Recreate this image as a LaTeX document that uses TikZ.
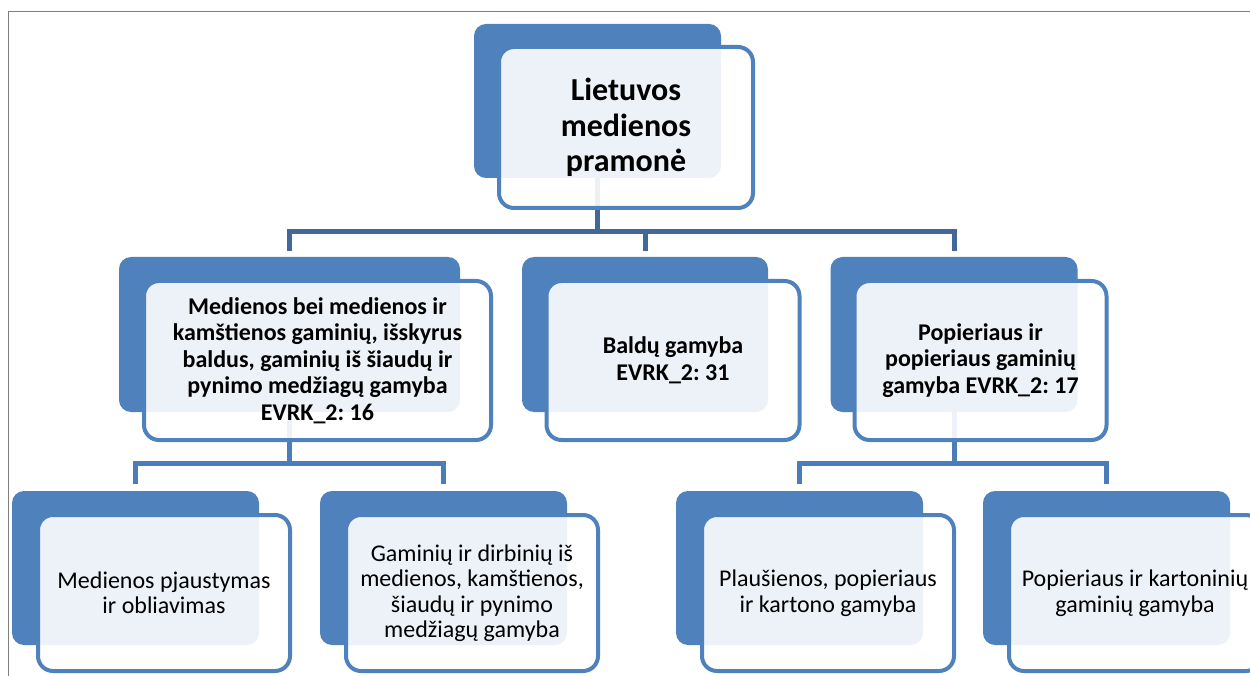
\documentclass[tikz,border=0pt]{standalone}
\usepackage{fontspec}
\setmainfont{Carlito}
\frenchspacing
\definecolor{accent}{HTML}{4F81BD}
\definecolor{linkdark}{HTML}{416899}
\definecolor{linklight}{HTML}{4A7DBA}
\definecolor{framegray}{HTML}{7F7F7F}
\tikzset{
  backcard/.style={rectangle, fill=accent, rounded corners=12pt, inner sep=0pt,
    minimum height=154pt},
  frontcard/.style={rectangle, draw=accent, line width=4pt, fill=white,
    fill opacity=0.9, draw opacity=1, text opacity=1, rounded corners=15pt,
    inner sep=0pt, align=center, text=black},
  toptext/.style={font=\fontsize{32}{35.5}\selectfont\bfseries},
  midtext/.style={font=\fontsize{24}{26.5}\selectfont\bfseries},
  lowtext/.style={font=\fontsize{24}{25.5}\selectfont},
  link/.style={line width=5pt, line join=miter, line cap=butt},
}
\begin{document}
\begin{tikzpicture}[x=1pt, y=-1pt]
\clip (0,0) rectangle (1250,676);
\fill[white] (0,0) rectangle (1250,676);

% page frame
\draw[framegray, line width=1.8pt] (8.5,676) -- (8.5,11.5) -- (1250,11.5);

% back cards
\node[backcard, minimum width=247pt] (topbk) at (597.5,101) {};
\node[backcard, minimum width=341pt, minimum height=155pt] (l2abk) at (289.5,334.5) {};
\node[backcard, minimum width=246pt, minimum height=155pt] (l2bbk) at (645,334.5) {};
\node[backcard, minimum width=247pt, minimum height=155pt] (l2cbk) at (954,334.5) {};
\node[backcard, minimum width=247pt] (l3abk) at (135.5,568) {};
\node[backcard, minimum width=247pt] (l3bbk) at (443.5,568) {};
\node[backcard, minimum width=247pt] (l3cbk) at (799.5,568) {};
\node[backcard, minimum width=247pt] (l3dbk) at (1106.5,568) {};

% connectors
\draw[link, linkdark, shorten >=6pt] (topbk.south) -- ++(0,53) -| (l2abk.north);
\draw[link, linkdark, shorten >=6pt] (topbk.south) -- ++(0,53) -| (l2bbk.north);
\draw[link, linkdark, shorten >=6pt] (topbk.south) -- ++(0,53) -| (l2cbk.north);
\draw[link, linklight, shorten >=7pt] (l2abk.south) -- ++(0,51) -| (l3abk.north);
\draw[link, linklight, shorten >=7pt] (l2abk.south) -- ++(0,51) -| (l3bbk.north);
\draw[link, linklight, shorten >=7pt] (l2cbk.south) -- ++(0,51) -| (l3cbk.north);
\draw[link, linklight, shorten >=7pt] (l2cbk.south) -- ++(0,51) -| (l3dbk.north);

% front cards with text
\node[frontcard, toptext, minimum width=254pt, minimum height=161pt] (top) at (626,127.5)
  {Lietuvos\\medienos\\pramonė};
\node[frontcard, midtext, minimum width=347pt, minimum height=159pt] (l2a) at (317.5,360.5)
  {Medienos bei medienos ir\\kamštienos gaminių, išskyrus\\baldus, gaminių iš šiaudų ir\\pynimo medžiagų gamyba\\EVRK\_2: 16};
\node[frontcard, midtext, minimum width=253pt, minimum height=159pt] (l2b) at (673,360.5)
  {Baldų gamyba\\EVRK\_2: 31};
\node[frontcard, midtext, minimum width=252pt, minimum height=159pt] (l2c) at (980.5,360.5)
  {Popieriaus ir\\popieriaus gaminių\\gamyba EVRK\_2: 17};
\node[frontcard, lowtext, minimum width=252pt, minimum height=156pt] (l3a) at (164,593)
  {Medienos pjaustymas\\ir obliavimas};
\node[frontcard, lowtext, minimum width=252pt, minimum height=156pt] (l3b) at (472,593)
  {Gaminių ir dirbinių iš\\medienos, kamštienos,\\šiaudų ir pynimo\\medžiagų gamyba};
\node[frontcard, lowtext, minimum width=252pt, minimum height=156pt] (l3c) at (828,593)
  {Plaušienos, popieriaus\\ir kartono gamyba};
\node[frontcard, lowtext, minimum width=252pt, minimum height=156pt] (l3d) at (1135,593)
  {Popieriaus ir kartoninių\\gaminių gamyba};
\end{tikzpicture}
\end{document}
